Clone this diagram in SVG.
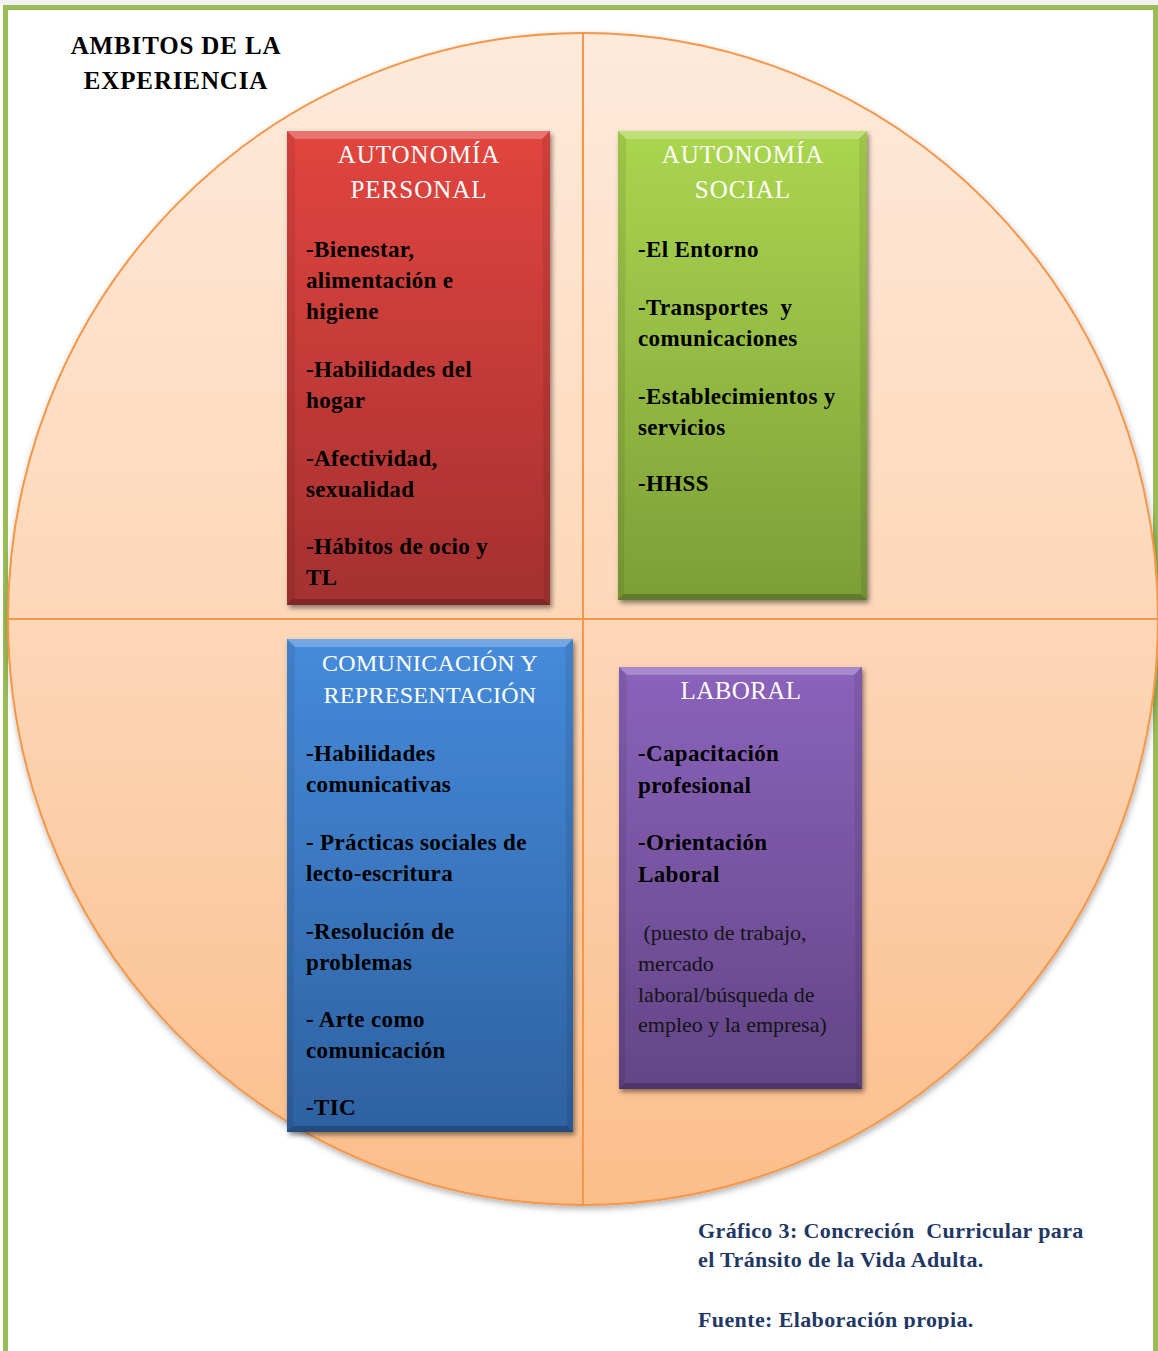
<svg xmlns="http://www.w3.org/2000/svg" width="1158" height="1351" viewBox="0 0 1158 1351">
<defs>
<style>
.t{font-family:"Liberation Serif","Times New Roman",serif;white-space:pre}
.hdr{font-size:25px;fill:#fff;text-anchor:middle;letter-spacing:1px}
.item{font-size:23px;font-weight:bold;fill:#000;letter-spacing:0.35px}
.note{font-size:22px;fill:#141414}
.title{font-size:25px;font-weight:bold;fill:#000;text-anchor:middle;letter-spacing:0.85px}
.cap{font-size:22px;font-weight:bold;fill:#1F3864;letter-spacing:0.38px}
.divider{stroke:#F79646;stroke-width:2;fill:none}
.btop{fill:#fff;opacity:.25}
.bbot{fill:#000;opacity:.22}
.bside{fill:#000;opacity:.08}
</style>
<linearGradient id="gCircle" x1="0" y1="33" x2="0" y2="1205" gradientUnits="userSpaceOnUse">
<stop offset="0" stop-color="#FEEADB"/>
<stop offset="0.5" stop-color="#FDD7B8"/>
<stop offset="1" stop-color="#FBBE8B"/>
</linearGradient>
<linearGradient id="gRed" x1="0" y1="0" x2="0" y2="1">
<stop offset="0" stop-color="#E2453F"/>
<stop offset="1" stop-color="#A43030"/>
</linearGradient>
<linearGradient id="gGreen" x1="0" y1="0" x2="0" y2="1">
<stop offset="0" stop-color="#ABD64F"/>
<stop offset="1" stop-color="#7C9E38"/>
</linearGradient>
<linearGradient id="gBlue" x1="0" y1="0" x2="0" y2="1">
<stop offset="0" stop-color="#458BDB"/>
<stop offset="1" stop-color="#2E61A1"/>
</linearGradient>
<linearGradient id="gPurple" x1="0" y1="0" x2="0" y2="1">
<stop offset="0" stop-color="#8B63BB"/>
<stop offset="1" stop-color="#634586"/>
</linearGradient>
<filter id="shBox" x="-10%" y="-10%" width="125%" height="125%">
<feDropShadow dx="2" dy="3" stdDeviation="2.5" flood-color="#000" flood-opacity="0.45"/>
</filter>
<filter id="shCircle" x="-5%" y="-5%" width="110%" height="110%">
<feDropShadow dx="1" dy="3" stdDeviation="3" flood-color="#000" flood-opacity="0.3"/>
</filter>
<clipPath id="capClip"><rect x="600" y="1200" width="550" height="129"/></clipPath>
</defs>

<rect x="0" y="0" width="1158" height="1351" fill="#fff"/>
<rect x="0" y="0" width="1158" height="5" fill="#F2F2F2"/>
<rect id="frame" x="5.5" y="7.5" width="1150" height="1360" fill="#fff" stroke="#9BBB59" stroke-width="5"/>

<g id="circle">
<ellipse cx="583" cy="619" rx="575" ry="586" fill="url(#gCircle)" stroke="#F79646" stroke-width="2" filter="url(#shCircle)"/>
</g>

<g id="connectors">
<line class="divider" x1="583" y1="33" x2="583" y2="1205"/>
<line class="divider" x1="8" y1="619" x2="1158" y2="619"/>
</g>

<g id="title">
<text class="t title" x="176" y="54">AMBITOS DE LA</text>
<text class="t title" x="176" y="89">EXPERIENCIA</text>
</g>

<g id="node-autonomia-personal">
<rect x="287" y="131" width="263" height="474" fill="url(#gRed)" filter="url(#shBox)"/>
<polygon class="btop" points="287,131 550,131 542,139 295,139"/>
<polygon class="bbot" points="287,605 550,605 544,599 293,599"/>
<polygon class="bside" points="287,131 295,139 295,599 287,605"/>
<polygon class="bside" points="550,131 542,139 544,599 550,605"/>
<text class="t hdr" x="419" y="163">AUTONOMÍA</text>
<text class="t hdr" x="419" y="198">PERSONAL</text>
<text class="t item" x="306" y="257">-Bienestar,</text>
<text class="t item" x="306" y="288">alimentación e</text>
<text class="t item" x="306" y="319">higiene</text>
<text class="t item" x="306" y="377">-Habilidades del</text>
<text class="t item" x="306" y="408">hogar</text>
<text class="t item" x="306" y="466">-Afectividad,</text>
<text class="t item" x="306" y="497">sexualidad</text>
<text class="t item" x="306" y="554">-Hábitos de ocio y</text>
<text class="t item" x="306" y="585">TL</text>
</g>

<g id="node-autonomia-social">
<rect x="618" y="131" width="249" height="469" fill="url(#gGreen)" filter="url(#shBox)"/>
<polygon class="btop" points="618,131 867,131 859,139 626,139"/>
<polygon class="bbot" points="618,600 867,600 861,594 624,594"/>
<polygon class="bside" points="618,131 626,139 624,594 618,600"/>
<polygon class="bside" points="867,131 859,139 861,594 867,600"/>
<text class="t hdr" x="743" y="163">AUTONOMÍA</text>
<text class="t hdr" x="743" y="198">SOCIAL</text>
<text class="t item" x="638" y="257">-El Entorno</text>
<text class="t item" x="638" y="315">-Transportes  y</text>
<text class="t item" x="638" y="346">comunicaciones</text>
<text class="t item" x="638" y="404">-Establecimientos y</text>
<text class="t item" x="638" y="435">servicios</text>
<text class="t item" x="638" y="491">-HHSS</text>
</g>

<g id="node-comunicacion">
<rect x="287" y="639" width="286" height="493" fill="url(#gBlue)" filter="url(#shBox)"/>
<polygon class="btop" points="287,639 573,639 565,647 295,647"/>
<polygon class="bbot" points="287,1132 573,1132 567,1126 293,1126"/>
<polygon class="bside" points="287,639 295,647 293,1126 287,1132"/>
<polygon class="bside" points="573,639 565,647 567,1126 573,1132"/>
<text class="t hdr" x="430" y="671" style="font-size:24px;letter-spacing:0.3px">COMUNICACIÓN Y</text>
<text class="t hdr" x="430" y="703" style="font-size:24px;letter-spacing:0.3px">REPRESENTACIÓN</text>
<text class="t item" x="306" y="761">-Habilidades</text>
<text class="t item" x="306" y="792">comunicativas</text>
<text class="t item" x="306" y="850">- Prácticas sociales de</text>
<text class="t item" x="306" y="881">lecto-escritura</text>
<text class="t item" x="306" y="939">-Resolución de</text>
<text class="t item" x="306" y="970">problemas</text>
<text class="t item" x="306" y="1027">- Arte como</text>
<text class="t item" x="306" y="1058">comunicación</text>
<text class="t item" x="306" y="1115">-TIC</text>
</g>

<g id="node-laboral">
<rect x="619" y="667" width="243" height="422" fill="url(#gPurple)" filter="url(#shBox)"/>
<polygon class="btop" points="619,667 862,667 854,675 627,675"/>
<polygon class="bbot" points="619,1089 862,1089 856,1083 625,1083"/>
<polygon class="bside" points="619,667 627,675 625,1083 619,1089"/>
<polygon class="bside" points="862,667 854,675 856,1083 862,1089"/>
<text class="t hdr" x="741" y="699" style="letter-spacing:0.4px">LABORAL</text>
<text class="t item" x="638" y="761">-Capacitación</text>
<text class="t item" x="638" y="793">profesional</text>
<text class="t item" x="638" y="850">-Orientación</text>
<text class="t item" x="638" y="882">Laboral</text>
<text class="t note" x="638" y="940"> (puesto de trabajo,</text>
<text class="t note" x="638" y="971">mercado</text>
<text class="t note" x="638" y="1002">laboral/búsqueda de</text>
<text class="t note" x="638" y="1032">empleo y la empresa)</text>
</g>

<g id="caption" clip-path="url(#capClip)">
<text class="t cap" x="698" y="1238">Gráfico 3: Concreción  Curricular para</text>
<text class="t cap" x="698" y="1267">el Tránsito de la Vida Adulta.</text>
<text class="t cap" x="698" y="1327">Fuente: Elaboración propia.</text>
</g>
</svg>
